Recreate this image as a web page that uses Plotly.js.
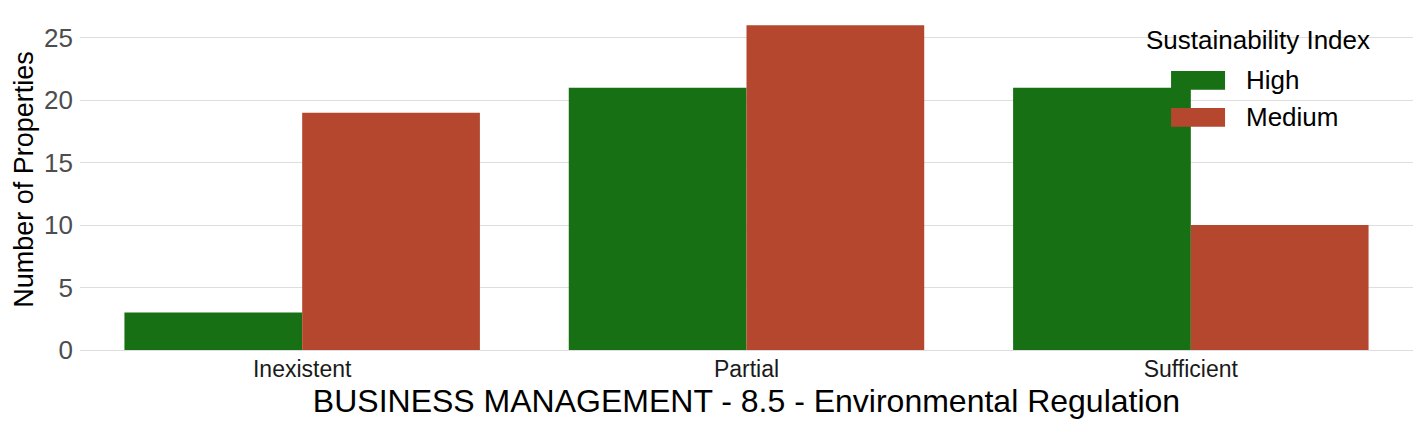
<!DOCTYPE html>
<html>
<head>
<meta charset="utf-8">
<script src="https://cdn.plot.ly/plotly-3.0.1.min.js"></script>
<style>
  html, body { margin: 0; padding: 0; background: #fff; }
  #plot { width: 1423px; height: 428px; }
</style>
</head>
<body>
<div id="plot"></div>
<script>
// Environmental regulation levels
var categories = ["Inexistent", "Partial", "Sufficient"];
var highValues = [3, 21, 21];
var mediumValues = [19, 26, 10];
var yTicks = [0, 5, 10, 15, 20, 25];
var seriesNames = ["High", "Medium"];
var seriesColors = ["#177013", "#b5472e"];

var traceHigh =
{
  x: categories,
  y: highValues,
  type: "bar",
  name: seriesNames[0],
  marker: { color: seriesColors[0] },
  hoverinfo: "x+y+name"
};

var traceMedium =
{
  x: categories,
  y: mediumValues,
  type: "bar",
  name: seriesNames[1],
  marker: { color: seriesColors[1] },
  hoverinfo: "x+y+name"
};

var data = [traceHigh, traceMedium];

// legend drawn by hand so the keys get the wide ggplot look
var legendShapes = [];
var legendNotes =
[
  {
    text: "Sustainability Index",
    xref: "paper", yref: "paper",
    x: 0.798, y: 0.909,
    xanchor: "left", yanchor: "middle",
    showarrow: false,
    font: { size: 26, color: "#000000" }
  }
];
var keyTops = [0.818, 0.710];
for (var i = 0; i < seriesNames.length; i++)
{
  legendShapes.push({
    type: "rect",
    xref: "paper", yref: "paper",
    x0: 0.8185, x1: 0.859,
    y0: keyTops[i] - 0.055, y1: keyTops[i],
    fillcolor: seriesColors[i],
    line: { width: 0 },
    layer: "above"
  });
  legendNotes.push({
    text: seriesNames[i],
    xref: "paper", yref: "paper",
    x: 0.873, y: keyTops[i] - 0.0275,
    xanchor: "left", yanchor: "middle",
    showarrow: false,
    font: { size: 26, color: "#000000" }
  });
}

var layout =
{
  width: 1423,
  height: 428,
  margin: { l: 80, r: 10, t: 9, b: 78 },
  paper_bgcolor: "#ffffff",
  plot_bgcolor: "#ffffff",
  font: { family: "Liberation Sans, Arial, sans-serif", color: "#000000" },
  barmode: "group",
  bargap: 0.2,
  bargroupgap: 0,
  showlegend: false,
  shapes: legendShapes,
  annotations: legendNotes,
  xaxis:
  {
    title: { text: "BUSINESS MANAGEMENT - 8.5 - Environmental Regulation", font: { size: 32, color: "#000000" }, standoff: 8 },
    tickfont: { size: 23, color: "#1a1a1a" },
    ticklabelstandoff: 3,
    showgrid: false,
    zeroline: false,
    showline: false,
    ticks: "",
    automargin: false,
    range: [-0.5, 2.5]
  },
  yaxis:
  {
    title: { text: "Number of Properties", font: { size: 27, color: "#000000" }, standoff: 2 },
    tickfont: { size: 26, color: "#4d4d4d" },
    ticklabelstandoff: 6,
    tickvals: yTicks,
    range: [0, 27.3],
    showgrid: true,
    gridcolor: "#dedede",
    gridwidth: 1,
    zeroline: true,
    zerolinecolor: "#dedede",
    zerolinewidth: 1,
    showline: false,
    ticks: "",
    automargin: false
  }
};

Plotly.newPlot("plot", data, layout, { displayModeBar: false });
</script>
</body>
</html>
